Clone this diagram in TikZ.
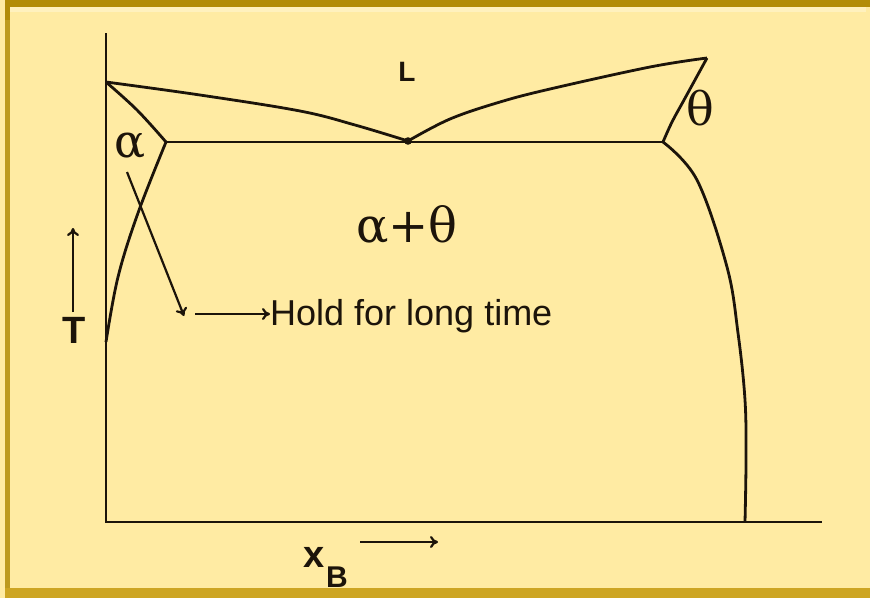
\documentclass[tikz,border=0pt]{standalone}
\usepackage{fontspec}
\setmainfont{Liberation Sans}
\newfontfamily\grk{DejaVu Serif}
\usetikzlibrary{arrows.meta}
\definecolor{bgfill}{RGB}{255,235,163}
\definecolor{goldtop}{RGB}{178,140,8}
\definecolor{goldbot}{RGB}{205,165,35}
\definecolor{ink}{RGB}{28,20,10}
\tikzset{
  curve/.style={draw=ink, line width=2.8pt, line join=round},
  axis/.style={draw=ink, line width=2.6pt},
  thinarrow/.style={draw=ink, line width=2.2pt, -{To[length=8pt,width=12pt]}},
  sanslabel/.style={text=ink, inner sep=0pt, font=\bfseries\fontsize{28}{30}\selectfont},
  greeklabel/.style={text=ink, inner sep=0pt, font=\grk\fontsize{46}{48}\selectfont},
}
\begin{document}
\begin{tikzpicture}[x=1pt,y=-1pt]
\useasboundingbox (0,0) rectangle (870,598);
% frame
\fill[bgfill] (0,0) rectangle (870,598);
\fill[goldtop] (20,0) rectangle (870,7);
\fill[goldtop!85!bgfill] (5,10) rectangle (10,590);
\fill[goldtop] (5,0) rectangle (10,20);
\fill[goldtop] (5,0) rectangle (20,7);
\fill[goldbot] (5,588) rectangle (870,598);
\fill[bgfill!70!white] (10,7) rectangle (866,12);
% key points
\coordinate (A) at (106,82);
\coordinate (E) at (408,141);
\coordinate (Th) at (707,58);
\coordinate (Sa) at (166,142);
\coordinate (St) at (663,142);
\coordinate (O) at (106,522);
% axes
\draw[axis] (106,33) -- (O) -- (822,522);
% liquidus
\draw[curve] plot[smooth, tension=0.6] coordinates {(A) (200,95) (300,111) (355,125) (E)};
\draw[curve] plot[smooth, tension=0.6] coordinates {(E) (450,119) (500,102) (550,89) (650,67) (Th)};
% solidus
\draw[curve] plot[smooth, tension=0.6] coordinates {(A) (137,110) (Sa)};
\draw[curve] plot[smooth, tension=0.6] coordinates {(Th) (684,100) (672,122) (St)};
% eutectic line
\draw[curve] (Sa) -- (St);
\fill[ink] (E) circle (3.8pt);
% solvus
\draw[curve] plot[smooth, tension=0.6] coordinates {(Sa) (138,213) (118,277) (106,342)};
\draw[curve] plot[smooth, tension=0.6] coordinates {(St) (697,180) (727,267) (738,333) (745,400) (746,460) (745,522)};
% labels
\node[sanslabel, anchor=base] (L) at (407,81) {L};
\node[greeklabel, anchor=base] (theta) at (700,125) {θ};
\node[greeklabel, anchor=base] (alpha) at (130,157) {α};
\node[greeklabel, anchor=base, font=\grk\fontsize{48}{50}\selectfont] (mix) at (407,242) {α+θ};
\node[sanslabel, anchor=base, font=\bfseries\fontsize{38}{40}\selectfont] (T) at (74,343) {T};
\coordinate (Tb) at (73,312);
\coordinate (Tt) at (73,228);
\draw[thinarrow] (Tb) -- (Tt);
\node[sanslabel, anchor=base west, font=\bfseries\fontsize{38}{40}\selectfont] (xB) at (303,567) {x};
\node[sanslabel, anchor=base west, font=\bfseries\fontsize{30}{32}\selectfont] (B) at (326,587) {B};
\coordinate (xa) at (360,542);
\coordinate (xb) at (438,542);
\draw[thinarrow] (xa) -- (xb);
% hold annotation
\coordinate (p1) at (127,172);
\coordinate (p2) at (184,316);
\draw[thinarrow] (p1) -- (p2);
\node[text=ink, inner sep=0pt, anchor=base west, font=\fontsize{36}{38}\selectfont] (hold) at (270,325) {Hold for long time};
\coordinate (h1) at (195,314);
\draw[thinarrow] (h1) -- (hold.west |- h1);
\end{tikzpicture}
\end{document}
